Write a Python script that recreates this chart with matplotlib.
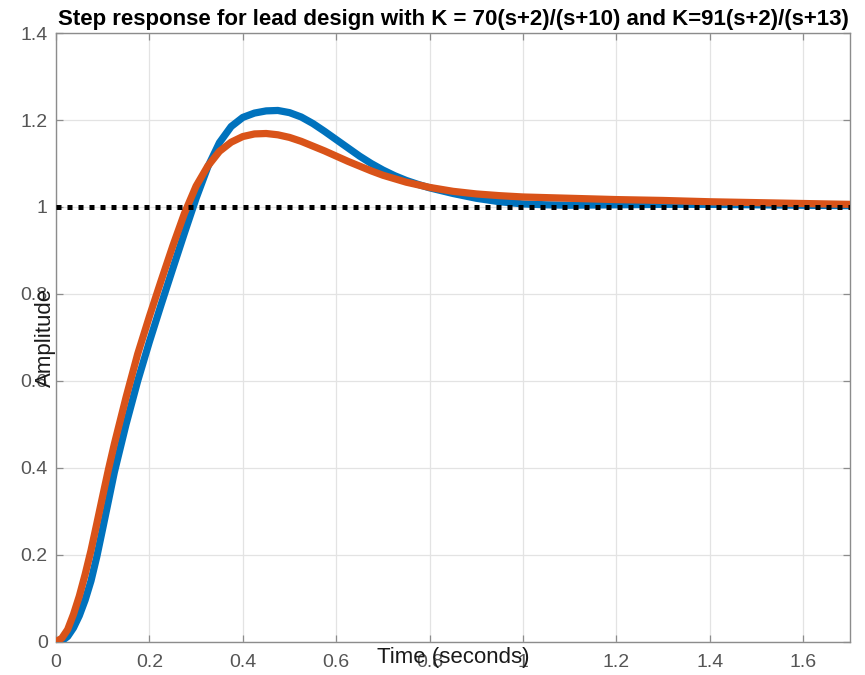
import numpy as np
import matplotlib.pyplot as plt

# values
time_k70 = [0, 0.0125, 0.025, 0.0375, 0.05, 0.0625, 0.075, 0.0875, 0.1, 0.1125, 0.125,
            0.15, 0.175, 0.2, 0.225, 0.25, 0.275, 0.3, 0.325, 0.35, 0.375, 0.4, 0.425,
            0.45, 0.475, 0.5, 0.525, 0.55, 0.575, 0.6, 0.625, 0.65, 0.675, 0.7, 0.725,
            0.75, 0.775, 0.8, 0.85, 0.9, 0.95, 1.0, 1.05, 1.1, 1.2, 1.3, 1.4, 1.5, 1.6, 1.7]
amp_k70 = [0, 0.002, 0.012, 0.032, 0.06, 0.096, 0.14, 0.196, 0.26, 0.325, 0.39,
           0.5, 0.6, 0.69, 0.775, 0.858, 0.94, 1.02, 1.092, 1.148, 1.185, 1.206, 1.216,
           1.221, 1.222, 1.217, 1.207, 1.192, 1.174, 1.155, 1.136, 1.117, 1.1, 1.085, 1.072,
           1.061, 1.052, 1.044, 1.031, 1.02, 1.012, 1.007, 1.005, 1.004, 1.005, 1.006, 1.006, 1.005, 1.004, 1.003]

time_k91 = [0, 0.0125, 0.025, 0.0375, 0.05, 0.0625, 0.075, 0.0875, 0.1, 0.1125, 0.125,
            0.15, 0.175, 0.2, 0.225, 0.25, 0.275, 0.3, 0.325, 0.35, 0.375, 0.4, 0.425,
            0.45, 0.475, 0.5, 0.525, 0.55, 0.575, 0.6, 0.625, 0.65, 0.675, 0.7, 0.75,
            0.8, 0.85, 0.9, 0.95, 1.0, 1.1, 1.2, 1.3, 1.4, 1.5, 1.6, 1.7]
amp_k91 = [0, 0.008, 0.028, 0.063, 0.105, 0.155, 0.21, 0.272, 0.335, 0.397, 0.455,
           0.562, 0.662, 0.748, 0.83, 0.91, 0.985, 1.048, 1.094, 1.128, 1.149, 1.162, 1.168,
           1.169, 1.166, 1.16, 1.151, 1.14, 1.129, 1.117, 1.105, 1.094, 1.083, 1.073, 1.057,
           1.045, 1.036, 1.03, 1.026, 1.023, 1.02, 1.017, 1.015, 1.012, 1.01, 1.008, 1.006]

ref_time = [0, 1.7]
ref_amp = [1, 1]

x_ticks = [0, 0.2, 0.4, 0.6, 0.8, 1, 1.2, 1.4, 1.6]
x_tick_labels = ['0', '0.2', '0.4', '0.6', '0.8', '1', '1.2', '1.4', '1.6']
y_ticks = [0, 0.2, 0.4, 0.6, 0.8, 1, 1.2, 1.4]
y_tick_labels = ['0', '0.2', '0.4', '0.6', '0.8', '1', '1.2', '1.4']

plt.rcParams['font.family'] = ['Liberation Sans', 'DejaVu Sans']

fig = plt.figure(figsize=(8.65, 6.75), dpi=100)
ax = fig.add_axes([0.0647, 0.0493, 0.918, 0.9017])

ax.plot(time_k70, amp_k70, color='#0072BD', linewidth=5.2, solid_capstyle='round',
        solid_joinstyle='round', zorder=3)
ax.plot(time_k91, amp_k91, color='#D95319', linewidth=5.2, solid_capstyle='round',
        solid_joinstyle='round', zorder=4)
ax.plot(ref_time, ref_amp, color='black', linewidth=3.6, linestyle=(0, (1.0, 1.2)),
        dash_capstyle='butt', zorder=5)

ax.set_xlim(0, 1.7)
ax.set_ylim(0, 1.4)
ax.set_xticks(x_ticks)
ax.set_xticklabels(x_tick_labels)
ax.set_yticks(y_ticks)
ax.set_yticklabels(y_tick_labels)

ax.grid(True, color='#e3e3e3', linewidth=0.9, zorder=0)
ax.set_axisbelow(True)
for s in ax.spines.values():
    s.set_color('#8c8c8c')
    s.set_linewidth(1.0)

ax.tick_params(axis='both', direction='in', length=5, width=0.9, color='#8c8c8c',
               labelcolor='#555555', labelsize=14, top=True, right=True)
ax.tick_params(axis='x', pad=9)
ax.tick_params(axis='y', pad=6)

ax.set_title('Step response for lead design with K = 70(s+2)/(s+10) and K=91(s+2)/(s+13)',
             fontsize=16, fontweight='bold', color='black', pad=6)
ax.set_xlabel('Time (seconds)', fontsize=16, color='#1a1a1a', va='center')
ax.xaxis.set_label_coords(0.5, -0.026)
ax.set_ylabel('Amplitude', fontsize=16, color='#1a1a1a', va='center')
ax.yaxis.set_label_coords(-0.013, 0.5)

fig.savefig('out.png', dpi=100)
